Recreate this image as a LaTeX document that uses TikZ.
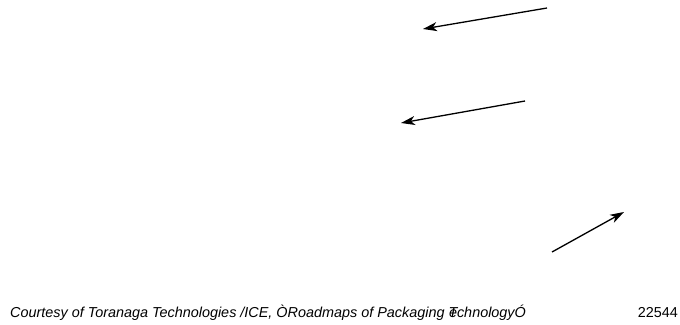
\documentclass[tikz,border=0pt]{standalone}
\usepackage{fontspec}
\setmainfont{Liberation Sans}
\usetikzlibrary{arrows.meta}
\tikzset{
  ptr/.style={line width=1.3pt, -{Stealth[length=14pt,width=9pt,inset=4pt]}},
  captext/.style={font=\fontsize{14.4}{16}\selectfont\itshape, anchor=base west, inner sep=0pt},
  numtext/.style={font=\fontsize{14.4}{16}\selectfont, anchor=base east, inner sep=0pt}
}
\begin{document}
\begin{tikzpicture}[x=1pt,y=-1pt]
\useasboundingbox (0,0) rectangle (680,324);
\coordinate (a1s) at (547,8);
\coordinate (a1e) at (423,29);
\coordinate (a2s) at (525,101);
\coordinate (a2e) at (401,123);
\coordinate (a3s) at (552,252);
\coordinate (a3e) at (624,212);
\draw[ptr] (a1s) -- (a1e);
\draw[ptr] (a2s) -- (a2e);
\draw[ptr] (a3s) -- (a3e);
\node[captext] (caption) at (10,317) {Courtesy of Toranaga Technologies /ICE, ÒRoadmaps of Packaging \rlap{T}\kern0.5pt echnologyÓ};
\node[numtext] (code) at (678,317) {22544};
\end{tikzpicture}
\end{document}
